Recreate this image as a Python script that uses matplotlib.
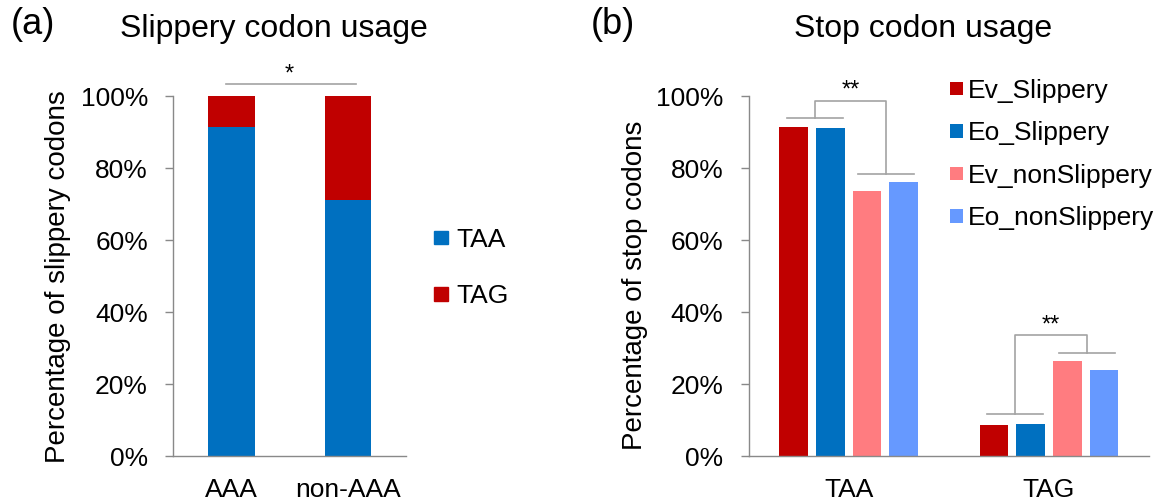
import matplotlib
matplotlib.use("Agg")
import matplotlib.pyplot as plt
import numpy as np
from matplotlib.patches import Patch
from matplotlib.ticker import PercentFormatter

plt.rcParams["font.family"] = ["Liberation Sans", "DejaVu Sans"]

# ---- data: panel (a) slippery codon usage (fraction of codons) ----
slip_categories = ["AAA", "non-AAA"]
slip_taa = [0.915, 0.710]
slip_tag = [0.085, 0.290]
slip_labels = ["TAA", "TAG"]

# ---- data: panel (b) stop codon usage (fraction of stop codons) ----
stop_categories = ["TAA", "TAG"]
stop_series = ["Ev_Slippery", "Eo_Slippery", "Ev_nonSlippery", "Eo_nonSlippery"]
ev_slippery = [0.913, 0.087]
eo_slippery = [0.910, 0.090]
ev_nonslippery = [0.737, 0.263]
eo_nonslippery = [0.760, 0.240]

# ---- styling ----
C_BLUE = "#0070C0"
C_RED = "#C00000"
C_PINK = "#FF7C80"
C_LBLUE = "#6699FF"
AXIS_GREY = "#898989"
ANNOT_GREY = "#A3A3A3"

W, H = 1164, 504
fig = plt.figure(figsize=(W / 100, H / 100), dpi=100)


def fx(px):
    return px / W


def fy(py):
    return 1 - py / H


def style_axes(ax):
    for side in ("top", "right"):
        ax.spines[side].set_visible(False)
    for side in ("left", "bottom"):
        ax.spines[side].set_color(AXIS_GREY)
        ax.spines[side].set_linewidth(1.0)
    ax.set_ylim(0, 1)
    ax.set_yticks(np.linspace(0, 1, 6))
    ax.yaxis.set_major_formatter(PercentFormatter(xmax=1, decimals=0))
    ax.tick_params(axis="y", length=5.5, width=1.0, color=AXIS_GREY,
                   labelsize=19, pad=12.5)
    ax.tick_params(axis="x", length=0, labelsize=19, pad=16)
    ax.set_xlim(-0.5, 1.5)


# ================= panel (a) =================
axa = fig.add_axes([fx(173), fy(456), fx(406.4) - fx(173), (456 - 96) / H])
style_axes(axa)
xa = np.arange(len(slip_categories))
axa.bar(xa, slip_taa, 0.40, color=C_BLUE, linewidth=0)
axa.bar(xa, slip_tag, 0.40, bottom=slip_taa, color=C_RED, linewidth=0)
axa.set_xticks(xa)
axa.set_xticklabels(slip_categories)

# significance line between the two columns
top_a = max(np.add(slip_taa, slip_tag)) + 0.032
axa.plot([xa[0] - 0.05, xa[1] + 0.07], [top_a, top_a], color=ANNOT_GREY,
         lw=1.2, clip_on=False)
axa.text(xa.mean(), top_a + 0.01, "*", ha="center", va="baseline",
         fontsize=17)

axa.legend(handles=[Patch(color=C_BLUE, label=slip_labels[0]),
                    Patch(color=C_RED, label=slip_labels[1])],
           loc="upper left", bbox_to_anchor=(fx(434.4), fy(228)),
           bbox_transform=fig.transFigure, frameon=False, fontsize=19,
           handlelength=0.51, handleheight=0.41, handletextpad=0.33,
           labelspacing=1.22, borderpad=0, borderaxespad=0)

fig.text(fx(58), fy(276.5), "Percentage of slippery codons", rotation=90,
         ha="center", va="center", fontsize=20)
fig.text(fx(273.6), fy(37.5), "Slippery codon usage", ha="center",
         va="baseline", fontsize=23)
fig.text(fx(33), fy(25), "(a)", ha="center", va="center", fontsize=26)

# ================= panel (b) =================
axb = fig.add_axes([fx(748.6), fy(456), fx(1149) - fx(748.6), (456 - 96) / H])
style_axes(axb)
xb = np.arange(len(stop_categories))
pitch, width = 0.183, 0.143
series_vals = [ev_slippery, eo_slippery, ev_nonslippery, eo_nonslippery]
series_cols = [C_RED, C_BLUE, C_PINK, C_LBLUE]
positions = []
for i, (name, vals, col) in enumerate(zip(stop_series, series_vals, series_cols)):
    pos = xb + (i - 1.5) * pitch
    positions.append(pos)
    axb.bar(pos, vals, width, color=col, linewidth=0, label=name)
axb.set_xticks(xb)
axb.set_xticklabels(stop_categories)

# brackets comparing slippery vs non-slippery pairs
half = 0.14
for g in range(len(stop_categories)):
    c1 = (positions[0][g] + positions[1][g]) / 2 + 0.015
    c2 = (positions[2][g] + positions[3][g]) / 2 + 0.005
    y1 = max(ev_slippery[g], eo_slippery[g]) + 0.026
    y2 = max(ev_nonslippery[g], eo_nonslippery[g]) + 0.024
    ytop = max(y1, y2) + 0.048
    kw = dict(color=ANNOT_GREY, lw=1.2, clip_on=False)
    axb.plot([c1 - half, c1 + half], [y1, y1], **kw)
    axb.plot([c2 - half, c2 + half], [y2, y2], **kw)
    axb.plot([c1, c1, c2, c2], [y1, ytop, ytop, y2], **kw)
    axb.text((c1 + c2) / 2, ytop + 0.012, "**", ha="center", va="baseline",
             fontsize=17)

axb.legend(loc="upper left", bbox_to_anchor=(fx(949.6), fy(79)),
           bbox_transform=fig.transFigure, frameon=False, fontsize=19,
           handlelength=0.51, handleheight=0.41, handletextpad=0.2,
           labelspacing=0.70, borderpad=0, borderaxespad=0)

fig.text(fx(635), fy(285), "Percentage of stop codons", rotation=90,
         ha="center", va="center", fontsize=20)
fig.text(fx(923), fy(37.5), "Stop codon usage", ha="center",
         va="baseline", fontsize=23)
fig.text(fx(613.3), fy(25), "(b)", ha="center", va="center", fontsize=26)

fig.savefig("out.png", dpi=100)
